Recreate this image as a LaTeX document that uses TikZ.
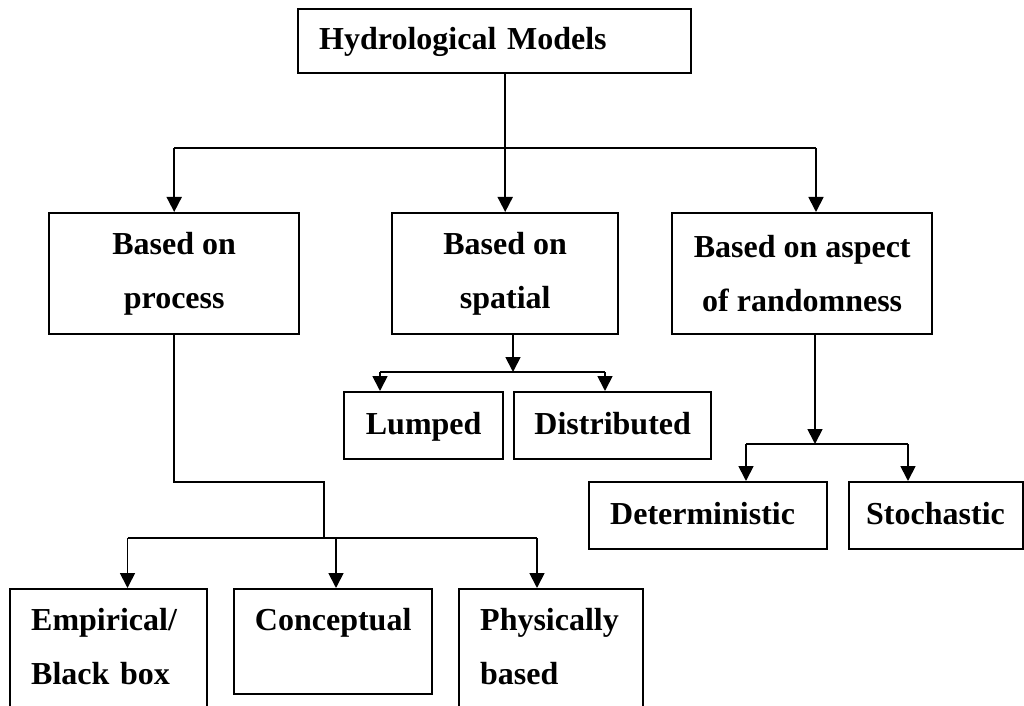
\documentclass[tikz,border=0pt]{standalone}
\usepackage{fontspec}
\setmainfont{Liberation Serif}
\usetikzlibrary{arrows.meta}

\tikzset{
  hbox/.style={draw, line width=1.2pt, inner ysep=0pt, anchor=north west,
    font=\fontsize{16pt}{27pt}\selectfont\bfseries},
  cbox/.style={hbox, align=center, inner xsep=0pt},
  lbox/.style={hbox, align=left},
  oneline/.style={text height=8.5pt, text depth=0pt},
  link/.style={line width=0.9pt},
  arr/.style={link, -{Triangle[length=7.5pt,width=7.5pt]}}
}

\begin{document}
\begin{tikzpicture}[x=0.5pt, y=-0.5pt]
\clip (0,0) rectangle (1024,706);

\node[lbox, oneline, text width=175.5pt, inner xsep=10.5pt, minimum height=32pt] (models) at (297,8) {Hydrological Models};

\node[cbox, minimum width=125pt, minimum height=60.5pt] (proc) at (48,212) {Based on\\process};
\node[cbox, minimum width=113pt, minimum height=60.5pt] (spat) at (391,212) {Based on\\spatial};
\node[cbox, minimum width=130pt, minimum height=60.5pt] (rand) at (671,212) {Based on aspect\\of randomness};

\node[cbox, oneline, minimum width=79.5pt, minimum height=33.5pt] (lumped) at (343,391) {Lumped};
\node[cbox, oneline, minimum width=98.5pt, minimum height=33.5pt] (distr) at (513,391) {Distributed};

\node[lbox, oneline, text width=98pt, inner xsep=10.5pt, minimum height=33.5pt] (determ) at (588,481) {Deterministic};
\node[lbox, oneline, text width=70pt, inner xsep=8.5pt, minimum height=33.5pt] (stoch) at (848,481) {Stochastic};

\node[lbox, text width=77.5pt, inner xsep=10.5pt, minimum height=84pt] (empir) at (9,588) {Empirical/\\Black box\\~};
\node[cbox, oneline, text depth=20pt, minimum width=99pt, minimum height=52.5pt] (concep) at (233,588) {Conceptual};
\node[lbox, text width=71pt, inner xsep=10.5pt, minimum height=84pt] (physic) at (458,588) {Physically\\based\\~};

% first level
\coordinate (bus) at (0,148);
\coordinate (busr) at (816,148);
\draw[arr] (models.south -| spat.north) -- (spat.north);
\draw[link] (bus -| proc.north) -- (busr);
\draw[arr] (bus -| proc.north) -- (proc.north);
\draw[arr] (busr) -- (busr |- rand.north);

% spatial
\coordinate (s1) at (513,372);
\coordinate (sl) at (380,372);
\coordinate (sr) at (605,372);
\draw[arr] (s1 |- spat.south) -- (s1);
\draw[link] (sl) -- (sr);
\draw[arr] (sl) -- (sl |- lumped.north);
\draw[arr] (sr) -- (sr |- distr.north);

% randomness
\coordinate (r1) at (815,444);
\coordinate (rl) at (746,444);
\coordinate (rr) at (908,444);
\draw[arr] (r1 |- rand.south) -- (r1);
\draw[link] (rl) -- (rr);
\draw[arr] (rl) -- (rl |- determ.north);
\draw[arr] (rr) -- (rr |- stoch.north);

% process
\coordinate (p1) at (324,482);
\coordinate (p2) at (324,538);
\coordinate (pl) at (127.5,538);
\coordinate (pm) at (336,538);
\coordinate (pr) at (537,538);
\draw[link] (proc.south) |- (p1) -- (p2);
\draw[link] (pl) -- (pr);
\draw[arr] (pl) -- (pl |- empir.north);
\draw[arr] (pm) -- (pm |- concep.north);
\draw[arr] (pr) -- (pr |- physic.north);
\end{tikzpicture}
\end{document}
